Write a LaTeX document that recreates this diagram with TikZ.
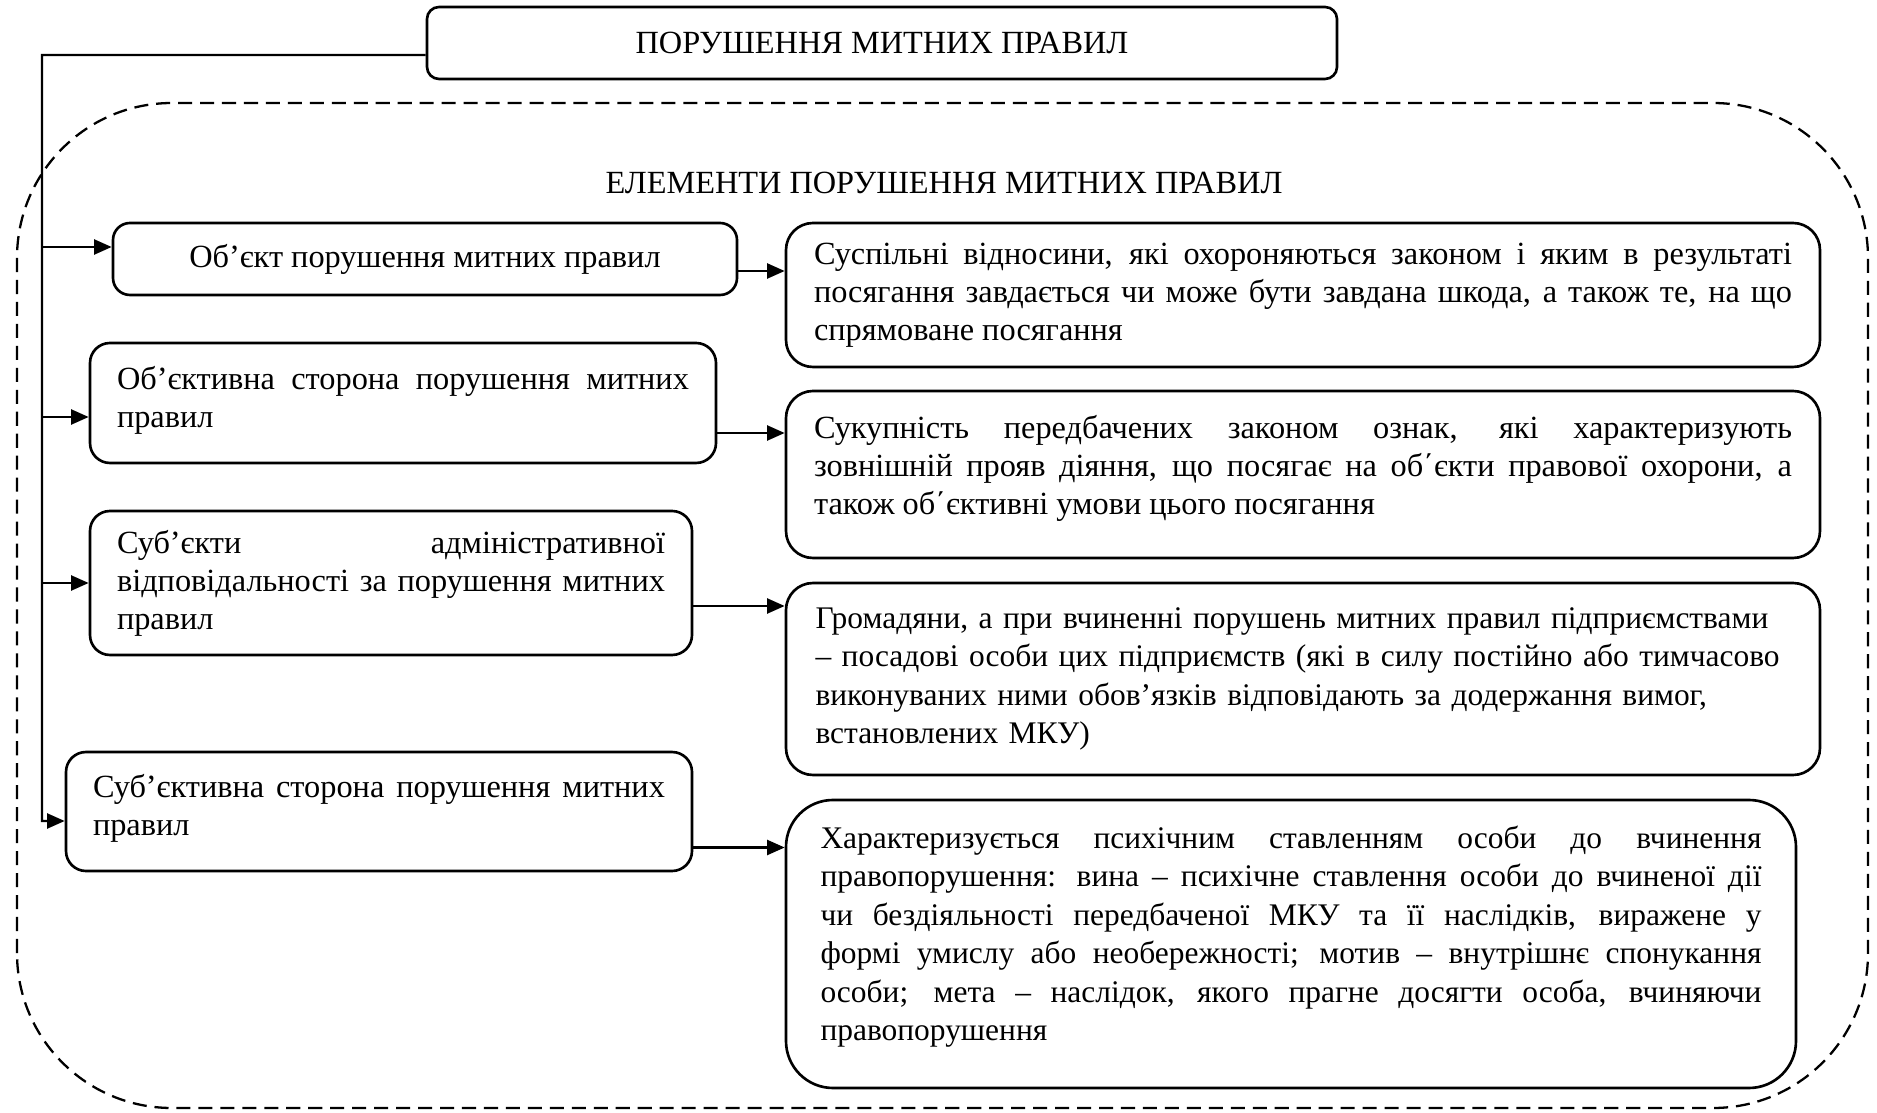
\documentclass[tikz,border=0pt]{standalone}
\usepackage{fontspec}
\setmainfont{Liberation Serif}
\usetikzlibrary{arrows.meta,positioning}
\newcommand{\boxfont}{\fontsize{18.4pt}{21.6pt}\selectfont\hyphenpenalty=10000\exhyphenpenalty=10000\tolerance=10000}
\newcommand{\smallboxfont}{\fontsize{17.9pt}{21.9pt}\selectfont\hyphenpenalty=10000\exhyphenpenalty=10000\tolerance=10000}
\newcommand{\raiseby}[1]{\par\nointerlineskip\hbox{\rule{0pt}{#1}}}
\tikzstyle{headbox} = [rectangle, rounded corners=0.24cm, draw=black, line width=1.5pt, minimum width=18.2cm, minimum height=1.44cm, text centered, font=\boxfont]
\tikzstyle{part} = [rectangle, rounded corners=0.4cm, draw=black, line width=1.5pt, inner xsep=0.54cm, inner ysep=0pt, align=justify, font=\boxfont]
\tikzstyle{definition} = [rectangle, rounded corners=0.54cm, draw=black, line width=1.5pt, inner xsep=0.56cm, inner ysep=0pt, align=justify, text width=19.56cm, font=\boxfont]
\tikzstyle{arrow} = [line width=1.4pt,-{Triangle[length=10pt,width=8.5pt]}]
\tikzstyle{line} = [line width=1.4pt]
\tikzstyle{frame} = [line width=1.3pt, dash pattern=on 8pt off 4.5pt, rounded corners=3.1cm]
\begin{document}
\begin{tikzpicture}
\useasboundingbox (0,0) rectangle (37.54,22.24);
%%
\draw[frame] (0.34,0.08) rectangle (37.36,20.18);
\node (top) at (17.64,21.38) [headbox] {ПОРУШЕННЯ МИТНИХ ПРАВИЛ};
\node (elements) at (18.88,18.58) [font=\boxfont] {ЕЛЕМЕНТИ ПОРУШЕННЯ МИТНИХ ПРАВИЛ};
% elements of the violation
\node (obj) at (8.5,17.06) [part, align=center, minimum width=12.48cm, minimum height=1.44cm, rounded corners=0.34cm] {Об’єкт порушення митних правил};
\node (objside) at (8.06,14.18) [part, text width=11.44cm, minimum height=2.4cm] {Об’єктивна сторона порушення митних\linebreak правил\raiseby{0.12cm}};
\node (subj) at (7.82,10.58) [part, text width=10.96cm, minimum height=2.88cm] {Суб’єкти адміністративної\linebreak відповідальності за порушення митних\linebreak правил};
\node (subjside) at (7.58,6.01) [part, text width=11.44cm, minimum height=2.38cm] {Суб’єктивна сторона порушення митних\linebreak правил\raiseby{0.12cm}};
% their definitions
\node (obj-def) at (26.06,16.34) [definition, minimum height=2.88cm] {Суспільні відносини, які охороняються законом і яким в результаті\linebreak посягання завдається чи може бути завдана шкода, а також те, на що\linebreak спрямоване посягання};
\node (objside-def) at (26.06,12.75) [definition, minimum height=3.34cm] {Сукупність передбачених законом ознак, які характеризують\linebreak зовнішній прояв діяння, що посягає на об΄єкти правової охорони, а\linebreak також об΄єктивні умови цього посягання\raiseby{0.26cm}};
\node (subj-def) at (26.06,8.66) [definition, align=left, text width=19.5cm, inner xsep=0.59cm, minimum height=3.84cm, font=\smallboxfont] {Громадяни, а при вчиненні порушень митних правил підприємствами\\ – посадові особи цих підприємств (які в силу постійно або тимчасово\\ виконуваних ними обов’язків відповідають за додержання вимог,\\ встановлених МКУ)};
\node (subjside-def) at (25.82,3.36) [definition, text width=18.82cm, inner xsep=0.69cm, minimum height=5.76cm, rounded corners=0.94cm, font=\smallboxfont] {Характеризується психічним ставленням особи до вчинення\linebreak правопорушення: вина – психічне ставлення особи до вчиненої дії\linebreak чи бездіяльності передбаченої МКУ та її наслідків, виражене у\linebreak формі умислу або необережності; мотив – внутрішнє спонукання\linebreak особи; мета – наслідок, якого прагне досягти особа, вчиняючи\linebreak правопорушення\raiseby{0.3cm}};
%%
\coordinate (bus) at (0.84,21.14);
\coordinate (obj-in) at ([yshift=0.24cm]obj.west);
\coordinate (objside-in) at ([yshift=-0.28cm]objside.west);
\coordinate (subj-in) at (subj.west);
\coordinate (subjside-in) at ([yshift=-0.19cm]subjside.west);
\draw[arrow] ([yshift=-0.24cm]top.west) -- (bus) |- (subjside-in);
\draw[arrow] (bus |- obj-in) -- (obj-in);
\draw[arrow] (bus |- objside-in) -- (objside-in);
\draw[arrow] (bus |- subj-in) -- (subj-in);
%%
\coordinate (obj-out) at ([yshift=-0.24cm]obj.east);
\coordinate (objside-out) at ([yshift=-0.6cm]objside.east);
\coordinate (subj-out) at ([yshift=-0.46cm]subj.east);
\coordinate (subjside-out) at ([yshift=-0.72cm]subjside.east);
\draw[arrow] (obj-out) -- (obj-out -| obj-def.west);
\draw[arrow] (objside-out) -- (objside-out -| objside-def.west);
\draw[arrow] (subj-out) -- (subj-out -| subj-def.west);
\draw[arrow] (subjside-out) -- (subjside-out -| subjside-def.west);
%
\end{tikzpicture}
\end{document}
